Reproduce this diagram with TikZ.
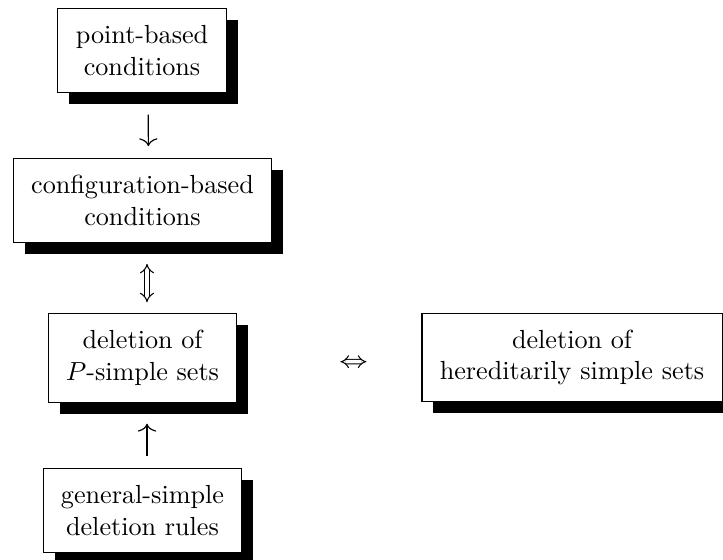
\documentclass[tikz,border=0pt]{standalone}
\usetikzlibrary{shadows,arrows.meta}
\begin{document}
\begin{tikzpicture}[x=0.3821pt,y=-0.3821pt,
  box/.style={draw, line width=0.4pt, fill=white, align=center,
    inner xsep=6.8pt, inner ysep=6.4pt,
    drop shadow={shadow xshift=4.4pt, shadow yshift=-4.4pt, fill=black, opacity=1}},
  single/.style={line width=0.45pt, -{Computer Modern Rightarrow[length=3pt,width=7pt]}},
  dbl/.style={double, double distance=1.3pt, line width=0.4pt, {Implies}-{Implies}},
  vdbl/.style={double, double distance=1.5pt, line width=0.4pt, {Implies[scale=1.35]}-{Implies[scale=1.35]}}]
\useasboundingbox (0,0) rectangle (723,560);
\node[box] (b1) at (142,50.5) {point-based\\conditions};
\node[box] (b2) at (142.5,200.5) {configuration-based\\conditions};
\node[box] (b3) at (142.5,358) {deletion of\\$P$-simple sets};
\node[box] (b4) at (572,357.5) {deletion of\\hereditarily simple sets};
\node[box] (b5) at (142.5,510.5) {general-simple\\deletion rules};
\draw[single, shorten <=22*0.3821pt, shorten >=12*0.3821pt]
  ([shift={(6,0)}]b1.south) -- ([shift={(6,0)}]b2.north);
\draw[vdbl, shorten <=21*0.3821pt, shorten >=11*0.3821pt]
  ([shift={(4.5,0)}]b2.south) -- ([shift={(4.5,0)}]b3.north);
\draw[dbl, shorten <=103*0.3821pt, shorten >=55*0.3821pt]
  ([shift={(0,4)}]b3.east) -- ([shift={(0,4)}]b4.west);
\draw[single, shorten <=12*0.3821pt, shorten >=21*0.3821pt]
  ([shift={(4.5,0)}]b5.north) -- ([shift={(4.5,0)}]b3.south);
\end{tikzpicture}
\end{document}
